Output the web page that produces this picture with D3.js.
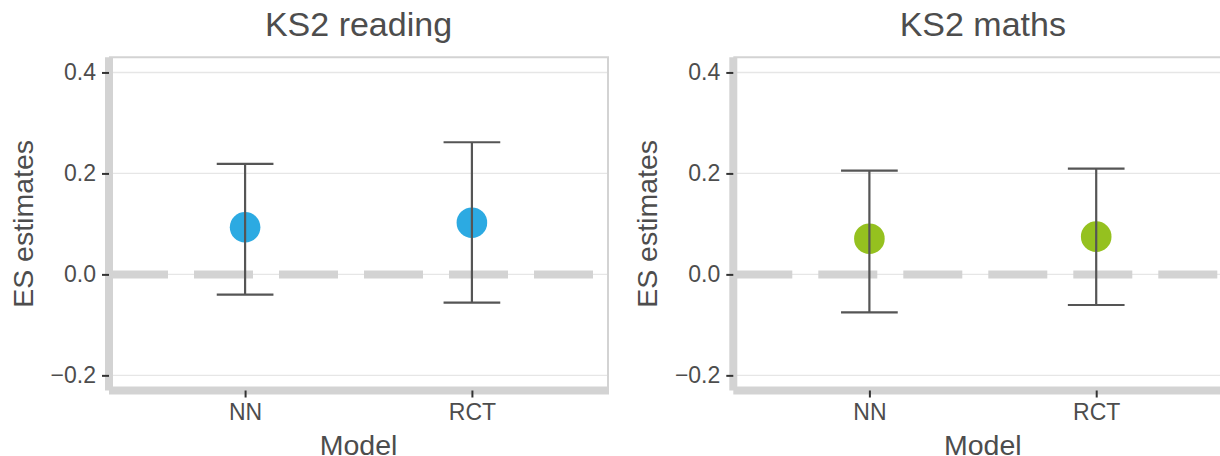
<!DOCTYPE html>
<html>
<head>
<meta charset="utf-8">
<script src="https://cdn.jsdelivr.net/npm/d3@7"></script>
<style>
  html, body { margin: 0; padding: 0; background: #fff; }
  svg { display: block; font-family: "Liberation Sans", Arial, sans-serif; }
</style>
</head>
<body>
<svg id="chart" width="1220" height="456"></svg>
<script>
// Effect-size estimates with confidence intervals, one panel per outcome
const subjects = ["KS2 reading", "KS2 maths"];
const models = ["NN", "RCT"];
const estReading = [0.0933, 0.1024];
const lowReading = [-0.0402, -0.0560];
const highReading = [0.2187, 0.2617];
const estMaths = [0.0707, 0.0747];
const lowMaths = [-0.0751, -0.0606];
const highMaths = [0.2054, 0.2094];
const yTicks = [-0.2, 0.0, 0.2, 0.4];
const pointColors = ["#2CAAE2", "#95C11F"];

const series = [
  { est: estReading, low: lowReading, high: highReading },
  { est: estMaths, low: lowMaths, high: highMaths }
];

const svg = d3.select("#chart");
const panelTop = 57.3, panelBottom = 390.5;
const panelLefts = [109, 733.3];
const panelWidth = 499;
const textCol = "#4d4d4d";

const y = d3.scaleLinear().domain([-0.23, 0.43]).range([panelBottom, panelTop]);

subjects.forEach((subject, p) => {
  const L = panelLefts[p], R = L + panelWidth;
  const x = d3.scalePoint().domain(models).range([L, R]).padding(0.6);
  const step = x.step();
  const g = svg.append("g");
  const d = models.map((m, i) => ({
    m, est: series[p].est[i], low: series[p].low[i], high: series[p].high[i]
  }));

  // major grid
  g.append("g").selectAll("line").data(yTicks).join("line")
    .attr("x1", L).attr("x2", R)
    .attr("y1", v => y(v)).attr("y2", v => y(v))
    .attr("stroke", "#e6e6e6").attr("stroke-width", 1.4);

  // zero reference
  g.append("line")
    .attr("x1", L).attr("x2", R).attr("y1", y(0)).attr("y2", y(0))
    .attr("stroke", "#d3d3d3").attr("stroke-width", 8)
    .attr("stroke-dasharray", "59 26");

  // panel border (top and right)
  g.append("path")
    .attr("d", `M${L},${panelTop}H${R}V${panelBottom}`)
    .attr("fill", "none").attr("stroke", "#d3d3d3").attr("stroke-width", 2);

  // points
  g.append("g").selectAll("circle").data(d).join("circle")
    .attr("cx", r => x(r.m)).attr("cy", r => y(r.est)).attr("r", 15.3)
    .attr("fill", pointColors[p]);

  // error bars
  const eb = g.append("g").attr("stroke", "#555555").attr("stroke-width", 2.2).attr("fill", "none");
  const w = step * 0.25 / 2;
  eb.selectAll("path").data(d).join("path")
    .attr("d", r => {
      const cx = x(r.m);
      return `M${cx - w},${y(r.high)}H${cx + w}M${cx},${y(r.high)}V${y(r.low)}M${cx - w},${y(r.low)}H${cx + w}`;
    });

  // axis lines
  g.append("line").attr("x1", L).attr("x2", L).attr("y1", panelTop).attr("y2", panelBottom)
    .attr("stroke", "#d3d3d3").attr("stroke-width", 8);
  g.append("line").attr("x1", L).attr("x2", R + 1).attr("y1", panelBottom).attr("y2", panelBottom)
    .attr("stroke", "#d3d3d3").attr("stroke-width", 8);

  // y axis
  const yAxis = d3.axisLeft(y).tickValues(yTicks).tickSize(7).tickPadding(6)
    .tickFormat(v => d3.format(".1f")(v).replace("-", "\u2212"));
  const ya = g.append("g").attr("transform", `translate(${L},0)`).call(yAxis);
  ya.select(".domain").remove();
  ya.selectAll(".tick line").attr("stroke", "#333").attr("stroke-width", 2);
  ya.selectAll(".tick text").attr("fill", textCol).attr("font-size", 23)
    .attr("font-family", "Liberation Sans, Arial, sans-serif");

  // x axis
  const xAxis = d3.axisBottom(x).tickSize(7).tickPadding(6);
  const xa = g.append("g").attr("transform", `translate(0,${panelBottom})`).call(xAxis);
  xa.select(".domain").remove();
  xa.selectAll(".tick line").attr("stroke", "#333").attr("stroke-width", 2);
  xa.selectAll(".tick text").attr("fill", textCol).attr("font-size", 23)
    .attr("font-family", "Liberation Sans, Arial, sans-serif");

  // titles
  g.append("text").attr("x", (L + R) / 2).attr("y", 36)
    .attr("text-anchor", "middle").attr("font-size", 34).attr("fill", textCol)
    .text(subject);
  g.append("text").attr("x", (L + R) / 2).attr("y", 455)
    .attr("text-anchor", "middle").attr("font-size", 28.5).attr("fill", textCol)
    .text("Model");
  g.append("text")
    .attr("transform", `translate(${L - 76},${(panelTop + panelBottom) / 2}) rotate(-90)`)
    .attr("text-anchor", "middle").attr("font-size", 28.5).attr("fill", textCol)
    .text("ES estimates");
});
</script>
</body>
</html>
